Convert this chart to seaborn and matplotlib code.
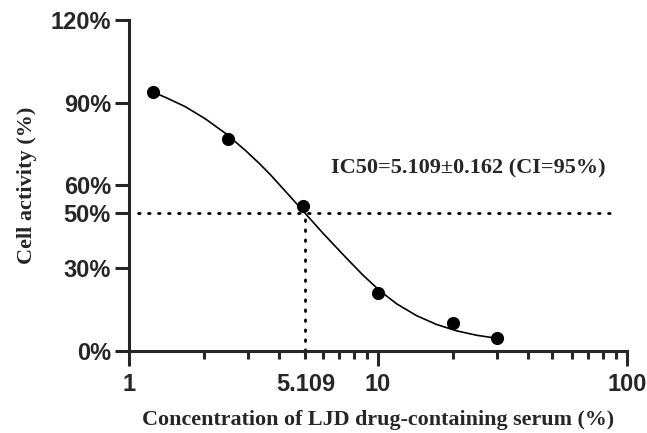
import matplotlib
matplotlib.use("Agg")
import matplotlib.pyplot as plt
import matplotlib.ticker as mticker
import seaborn as sns
import pandas as pd

# Measured data points
conc = [1.25, 2.5, 5, 10, 20, 30]
activity = [94.0, 76.8, 52.5, 20.8, 9.9, 4.5]

# Fitted curve
curve_x = [1.25, 1.395, 1.679, 2.02, 2.43, 2.924, 3.358, 3.685, 4.433, 5.012,
           6.03, 7.485, 8.73, 9.88, 10.84, 11.89, 14.3, 17.21, 20.7, 24.91, 30]
curve_y = [93.8, 92.0, 88.6, 84.2, 79.0, 72.8, 67.7, 64.0, 56.0, 50.6,
           42.5, 33.5, 27.3, 22.8, 19.8, 17.0, 12.7, 9.5, 7.2, 5.6, 4.5]

ic50 = 5.109
y_ticks = [0, 30, 50, 60, 90, 120]
y_labels = ["0%", "30%", "50%", "60%", "90%", "120%"]
x_major = [1, 10, 100]
x_major_labels = ["1", "10", "100"]
x_minor = [2, 3, 4, ic50, 6, 7, 8, 9, 20, 30, 40, 50, 60, 70, 80, 90]
x_minor_labels = ["", "", "", "5.109", "", "", "", "", "", "", "", "", "", "", "", ""]
annotation = "IC50=5.109\u00b10.162 (CI=95%)"
xlabel = "Concentration of LJD drug-containing serum (%)"
ylabel = "Cell activity (%)"

sns.set_style("ticks")
plt.rcParams["font.family"] = ["Liberation Sans", "DejaVu Sans"]

fig = plt.figure(figsize=(6.47, 4.33), dpi=100)
ax = fig.add_axes([129 / 647, 1 - 350.7 / 433, (627 - 129) / 647, (350.7 - 20) / 433])

pts = pd.DataFrame({"x": conc, "y": activity})
crv = pd.DataFrame({"x": curve_x, "y": curve_y})

# dotted guides
ax.plot([1.085, 90], [50, 50], color="black", lw=2.0, linestyle=(0, (0.6, 3.0)),
        dash_capstyle="round", zorder=1)
ax.plot([ic50, ic50], [0, 50], color="black", lw=2.0, linestyle=(0, (0.6, 3.0)),
        dash_capstyle="round", zorder=1)

sns.lineplot(data=crv, x="x", y="y", ax=ax, color="black", lw=1.2, zorder=2,
             solid_joinstyle="round")
sns.scatterplot(data=pts, x="x", y="y", ax=ax, color="black", s=90,
                edgecolor="black", linewidth=0, zorder=3)

ax.set_xscale("log")
ax.set_xlim(1, 100)
ax.set_ylim(0, 120)

ax.set_xticks(x_major)
ax.set_xticklabels(x_major_labels)
ax.set_xticks(x_minor, minor=True)
ax.set_xticklabels(x_minor_labels, minor=True)
ax.set_yticks(y_ticks)
ax.set_yticklabels(y_labels)
ax.yaxis.set_minor_locator(mticker.NullLocator())

for lab in ax.get_xticklabels() + ax.get_xticklabels(minor=True) + ax.get_yticklabels():
    lab.set_fontsize(17)
    lab.set_fontweight("bold")

ax.tick_params(axis="x", which="major", length=11, width=2.2, pad=5, direction="out")
ax.tick_params(axis="x", which="minor", length=5.5, width=2.2, pad=10.5, direction="out")
ax.tick_params(axis="y", which="major", length=10, width=2.2, pad=3, direction="out")

for s in ["top", "right"]:
    ax.spines[s].set_visible(False)
for s in ["left", "bottom"]:
    ax.spines[s].set_linewidth(2.2)

serif = ["Liberation Serif", "DejaVu Serif"]
ax.set_xlabel(xlabel, fontsize=15.8, fontweight="bold", family=serif, labelpad=10)
ax.set_ylabel(ylabel, fontsize=16, fontweight="bold", family=serif, labelpad=10)

ax.text(6.48, 66, annotation, fontsize=16, fontweight="bold",
        family=serif, ha="left", va="center")

fig.savefig("out.png", dpi=100)
